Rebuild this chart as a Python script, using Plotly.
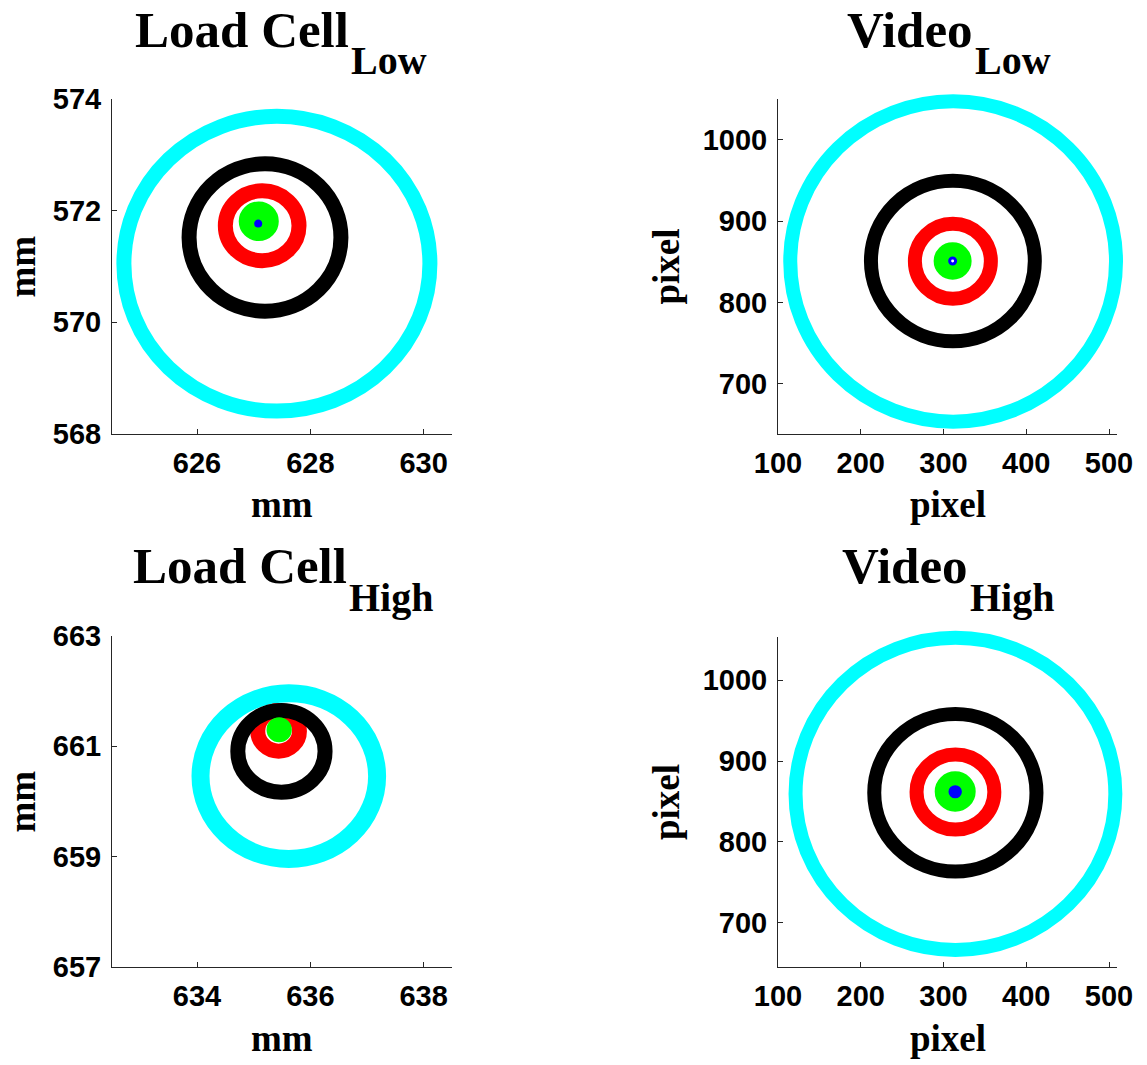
import plotly.graph_objects as go

FIG_W, FIG_H = 1147, 1065

# ---- panel text -----------------------------------------------------------
title_main = ["Load Cell", "Video", "Load Cell", "Video"]
title_sub = ["Low", "Low", "High", "High"]
unit_label = ["mm", "pixel", "mm", "pixel"]

# ---- tick values ----------------------------------------------------------
xticks_lc_low = [626, 628, 630]
yticks_lc_low = [568, 570, 572, 574]
xticks_vid_low = [100, 200, 300, 400, 500]
yticks_vid_low = [700, 800, 900, 1000]
xticks_lc_high = [634, 636, 638]
yticks_lc_high = [657, 659, 661, 663]
xticks_vid_high = [100, 200, 300, 400, 500]
yticks_vid_high = [700, 800, 900, 1000]

# ---- traced circles: centre and radius (data units) -------------------------
# order within each list: cyan, red, black, green, blue
ring_colors = ["#00FFFF", "#FF0000", "#000000", "#00FF00", "#0000FF"]

lc_low_cx = [627.41, 627.15, 627.20, 627.09, 627.08]
lc_low_cy = [571.05, 571.73, 571.52, 571.81, 571.77]
lc_low_rx = [2.70, 0.65, 1.34, 0.23, 0.045]
lc_low_ry = [2.64, 0.625, 1.32, 0.23, 0.045]

vid_low_cx = [311.6, 311.3, 311.3, 311.0, 311.0]
vid_low_cy = [850.7, 851.0, 851.2, 851.2, 851.2]
vid_low_rx = [196.8, 45.9, 99.0, 14.5, 3.6]
vid_low_ry = [197.0, 46.1, 98.7, 14.5, 3.6]

lc_high_cx = [635.62, 635.44, 635.49, 635.45]
lc_high_cy = [660.46, 661.28, 660.91, 661.30]
lc_high_rx = [1.558, 0.368, 0.770, 0.10]
lc_high_ry = [1.501, 0.368, 0.741, 0.10]

vid_high_cx = [314.4, 314.4, 314.3, 314.1, 314.1]
vid_high_cy = [859.3, 861.6, 860.7, 862.3, 862.0]
vid_high_rx = [193.2, 47.0, 98.0, 16.3, 6.3]
vid_high_ry = [193.3, 46.5, 97.6, 16.3, 6.3]

# ---- panel geometry (pixel box of the axes) and axis ranges -----------------
panels = [
    dict(box=(112, 452, 99, 434), xr=(624.5, 630.5), yr=(568, 574),
         xt=xticks_lc_low, yt=yticks_lc_low,
         cx=lc_low_cx, cy=lc_low_cy, rx=lc_low_rx, ry=lc_low_ry,
         widths=[15, 15, 15, 14, 3], blue_fill="#0000FF", junction=350),
    dict(box=(778, 1117, 99, 434), xr=(100, 509.6), yr=(638.5, 1050.4),
         xt=xticks_vid_low, yt=yticks_vid_low,
         cx=vid_low_cx, cy=vid_low_cy, rx=vid_low_rx, ry=vid_low_ry,
         widths=[14, 14, 14, 14, 3], blue_fill="#FFFFFF", junction=974),
    dict(box=(112, 452, 636, 967), xr=(632.5, 638.5), yr=(657, 663),
         xt=xticks_lc_high, yt=yticks_lc_high,
         cx=lc_high_cx, cy=lc_high_cy, rx=lc_high_rx, ry=lc_high_ry,
         widths=[18, 15, 15, 14, 3], blue_fill="#0000FF", junction=348),
    dict(box=(778, 1117, 637, 967), xr=(100, 509.6), yr=(645, 1053.6),
         xt=xticks_vid_high, yt=yticks_vid_high,
         cx=vid_high_cx, cy=vid_high_cy, rx=vid_high_rx, ry=vid_high_ry,
         widths=[14, 14, 14, 14, 3], blue_fill="#0000FF", junction=969),
]

AXIS_COLOR = "#262626"
TICK_FONT = dict(family="Liberation Sans", size=29, color="black", weight="bold")
SERIF = "Liberation Serif"
PAD = 14  # extra room (px) around each plot area so thick strokes are not clipped


def px_x(p):
    return p / FIG_W


def px_y(p):
    return 1 - p / FIG_H


fig = go.Figure()
layout = dict(
    width=FIG_W, height=FIG_H,
    margin=dict(l=0, r=0, t=0, b=0),
    paper_bgcolor="white", plot_bgcolor="rgba(0,0,0,0)",
    template="none", showlegend=False,
)
shapes = []
annotations = []

for i, p in enumerate(panels):
    x0, x1, y0, y1 = p["box"]
    sx = (x1 - x0) / (p["xr"][1] - p["xr"][0])
    sy = (y1 - y0) / (p["yr"][1] - p["yr"][0])
    d = 2 * i + 1   # drawing axes (hidden, padded)
    v = 2 * i + 2   # visible axes
    dx, dy = f"x{d}", f"y{d}"
    vx, vy = f"x{v}", f"y{v}"

    # empty traces so both axis pairs become real subplots
    fig.add_trace(go.Scatter(x=[], y=[], xaxis=dx, yaxis=dy, hoverinfo="skip"))
    fig.add_trace(go.Scatter(x=[], y=[], xaxis=vx, yaxis=vy, hoverinfo="skip"))

    # hidden axes that carry the circles, with a padded plot area at the same scale
    layout[f"xaxis{d}"] = dict(
        domain=[px_x(x0 - PAD), px_x(x1 + PAD)],
        range=[p["xr"][0] - PAD / sx, p["xr"][1] + PAD / sx],
        anchor=dy, visible=False, fixedrange=True)
    layout[f"yaxis{d}"] = dict(
        domain=[px_y(y1 + PAD), px_y(y0 - PAD)],
        range=[p["yr"][0] - PAD / sy, p["yr"][1] + PAD / sy],
        anchor=dx, visible=False, fixedrange=True)

    # visible axes: left and bottom lines with inward ticks
    common = dict(showline=True, linecolor=AXIS_COLOR, linewidth=1,
                  ticks="inside", ticklen=5, tickcolor=AXIS_COLOR, tickwidth=1,
                  showgrid=False, zeroline=False, mirror=False,
                  tickfont=TICK_FONT, fixedrange=True, automargin=False)
    layout[f"xaxis{v}"] = dict(
        domain=[px_x(x0), px_x(x1)], range=list(p["xr"]), anchor=vy,
        tickmode="array", tickvals=p["xt"], ticklabelstandoff=3, **common)
    layout[f"yaxis{v}"] = dict(
        domain=[px_y(y1), px_y(y0)], range=list(p["yr"]), anchor=vx,
        tickmode="array", tickvals=p["yt"], ticklabelstandoff=4, **common)

    # circles, largest first
    for k in range(len(p["cx"])):
        cx, cy, rx, ry = p["cx"][k], p["cy"][k], p["rx"][k], p["ry"][k]
        color = ring_colors[k]
        if k == 3:
            fill = color
        elif k == 4:
            fill = p["blue_fill"]
        else:
            fill = "rgba(0,0,0,0)"
        shapes.append(dict(
            type="circle", xref=dx, yref=dy,
            x0=cx - rx, x1=cx + rx, y0=cy - ry, y1=cy + ry,
            line=dict(color=color, width=p["widths"][k]),
            fillcolor=fill, layer="above"))

    # title: main word plus a lowered subscript
    row_top = 0 if i < 2 else 536
    j = p["junction"]
    annotations.append(dict(
        text=f"<b>{title_main[i]}</b>", xref="paper", yref="paper",
        x=px_x(j), y=px_y(row_top + 30), xanchor="right", yanchor="middle",
        showarrow=False, borderpad=0,
        font=dict(family=SERIF, size=51, color="black")))
    annotations.append(dict(
        text=f"<b>{title_sub[i]}</b>", xref="paper", yref="paper",
        x=px_x(j), y=px_y(row_top + 61), xanchor="left", yanchor="middle",
        showarrow=False, borderpad=0,
        font=dict(family=SERIF, size=40, color="black")))

    # axis titles
    unit = unit_label[i]
    annotations.append(dict(
        text=f"<b>{unit}</b>", xref="paper", yref="paper",
        x=px_x((x0 + x1) / 2), y=px_y(y1 + 71), xanchor="center", yanchor="middle",
        showarrow=False, borderpad=0,
        font=dict(family=SERIF, size=37, color="black")))
    annotations.append(dict(
        text=f"<b>{unit}</b>", xref="paper", yref="paper",
        x=px_x(x0 - 90 if i % 2 == 0 else x0 - 112), y=px_y((y0 + y1) / 2),
        xanchor="center", yanchor="middle", textangle=-90,
        showarrow=False, borderpad=0,
        font=dict(family=SERIF, size=37, color="black")))

layout["shapes"] = shapes
layout["annotations"] = annotations
fig.update_layout(**layout)
fig.write_html("out.html")
